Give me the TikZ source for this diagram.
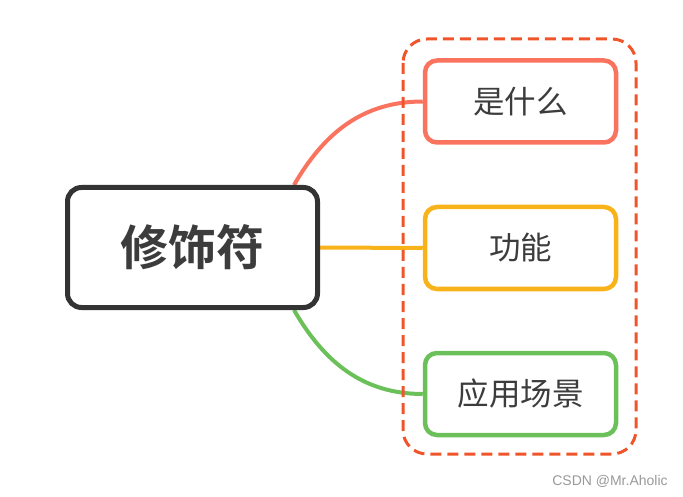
\documentclass[tikz,border=0pt]{standalone}
\usepackage{fontspec}
\newfontfamily\cjk[BoldFont={Noto Sans CJK SC Bold}]{Noto Sans CJK SC}
\newfontfamily\wmfont{Liberation Sans}
\usetikzlibrary{backgrounds}
\definecolor{boxdark}{HTML}{333333}
\definecolor{txtgray}{HTML}{3C3C3C}
\definecolor{redbr}{HTML}{F9735F}
\definecolor{dashred}{HTML}{F0542A}
\definecolor{yellowbr}{HTML}{F9B31A}
\definecolor{greenbr}{HTML}{6CC05A}
\tikzset{
  topic/.style={draw=boxdark,line width=5pt,rounded corners=14pt,fill=white,
    minimum width=250pt,minimum height=120pt,text=txtgray,
    font=\cjk\bfseries\fontsize{48}{54}\selectfont},
  sub/.style={draw=#1,line width=4.5pt,rounded corners=12pt,fill=white,
    minimum width=191pt,minimum height=82pt,text=txtgray,
    font=\cjk\fontsize{31.5}{36}\selectfont},
  branch/.style={draw=#1,line width=4pt}
}
\begin{document}
\begin{tikzpicture}[x=1pt,y=-1pt]
\useasboundingbox (0,0) rectangle (683,497);
\node[topic] (main) at (192.5,247.5) {修饰符};
\node[sub=redbr] (what) at (520.5,101.5) {是什么};
\node[sub=yellowbr] (func) at (520.5,248) {功能};
\node[sub=greenbr] (scene) at (520.5,394) {应用场景};
\draw[dashred,line width=3pt,dash pattern=on 11pt off 6pt,rounded corners=24pt]
  (403,39) rectangle (636,454);
\begin{scope}[on background layer]
\path (main.north east) ++(-26,0) coordinate (up);
\path (main.south east) ++(-26,0) coordinate (down);
\draw[branch=redbr] (up) to[out=60,in=180] (what.west);
\draw[branch=yellowbr] (main.east) -- (func.west);
\draw[branch=greenbr] (down) to[out=-60,in=180] (scene.west);
\end{scope}
\node[text=gray!80,font=\wmfont\fontsize{14}{16}\selectfont] (mark) at (610,481) {CSDN @Mr.Aholic};
\end{tikzpicture}
\end{document}
